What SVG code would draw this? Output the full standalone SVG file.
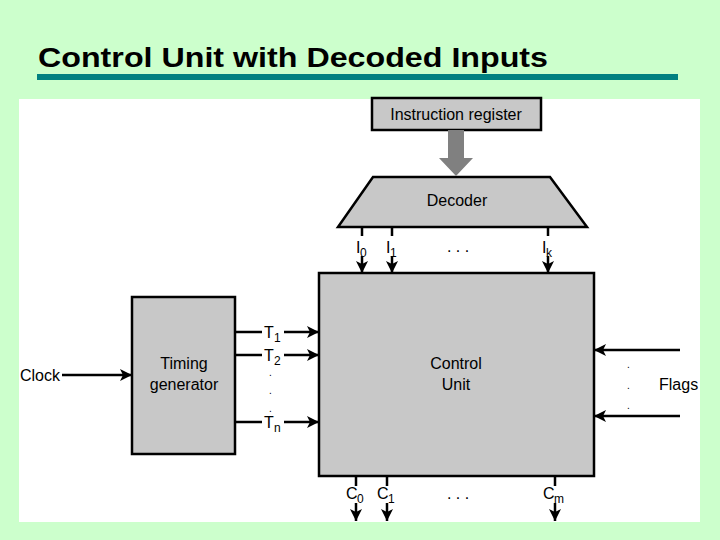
<svg xmlns="http://www.w3.org/2000/svg" width="720" height="540" viewBox="0 0 720 540">
<defs>
<marker id="ah" markerWidth="12" markerHeight="12" refX="12" refY="6" orient="auto" markerUnits="userSpaceOnUse">
<path d="M0,0 L12,6 L0,12 L3,6 Z" fill="#000"/>
</marker>
</defs>
<style>
.box{fill:#c8c8c8;stroke:#000;stroke-width:2.5}
.t{font-family:"Liberation Sans",Arial,sans-serif;font-size:16px;fill:#000}
.s{font-family:"Liberation Sans",Arial,sans-serif;font-size:12px;fill:#000}
.d{font-family:"Liberation Sans",Arial,sans-serif;font-size:10px;fill:#000}
.ln{stroke:#000;stroke-width:2.5;fill:none}
.ar{stroke:#000;stroke-width:2.5;fill:none;marker-end:url(#ah)}
</style>
<rect x="0" y="0" width="720" height="540" fill="#ccffcc"/>
<text x="38" y="67" font-family="'Liberation Sans',Arial,sans-serif" font-size="28" font-weight="bold" textLength="510" lengthAdjust="spacingAndGlyphs">Control Unit with Decoded Inputs</text>
<rect x="37" y="74" width="641" height="6" fill="#008080"/>
<rect x="19" y="99" width="681" height="423" fill="#fff"/>

<g id="instruction-register">
<rect class="box" x="372" y="98" width="169" height="32"/>
<text class="t" x="456" y="120" text-anchor="middle">Instruction register</text>
</g>
<g id="decoder">
<polygon class="box" points="373,177 550,177 587,227 338,227"/>
<text class="t" x="457" y="206" text-anchor="middle">Decoder</text>
</g>
<g id="timing-generator">
<rect class="box" x="132" y="297" width="103" height="157"/>
<text class="t" x="184" y="369" text-anchor="middle">Timing</text>
<text class="t" x="184" y="390" text-anchor="middle">generator</text>
</g>
<g id="control-unit">
<rect class="box" x="319" y="273" width="275" height="203"/>
<text class="t" x="456" y="369" text-anchor="middle">Control</text>
<text class="t" x="456" y="390" text-anchor="middle">Unit</text>
</g>

<g id="connectors">
<polygon points="448,130 464,130 464,158 473,158 456,176 439,158 448,158" fill="#808080"/>
<line class="ln" x1="362" y1="227" x2="362" y2="236"/>
<line class="ar" x1="362" y1="256" x2="362" y2="273"/>
<line class="ln" x1="392" y1="227" x2="392" y2="236"/>
<line class="ar" x1="392" y1="256" x2="392" y2="273"/>
<line class="ln" x1="548" y1="227" x2="548" y2="236"/>
<line class="ar" x1="548" y1="256" x2="548" y2="273"/>
<line class="ln" x1="235" y1="332" x2="262" y2="332"/>
<line class="ar" x1="284" y1="332" x2="319" y2="332"/>
<line class="ln" x1="235" y1="355" x2="262" y2="355"/>
<line class="ar" x1="284" y1="355" x2="319" y2="355"/>
<line class="ln" x1="235" y1="422" x2="262" y2="422"/>
<line class="ar" x1="284" y1="422" x2="319" y2="422"/>
<line class="ar" x1="62" y1="375" x2="132" y2="375"/>
<line class="ar" x1="680" y1="350" x2="594" y2="350"/>
<line class="ar" x1="680" y1="416" x2="594" y2="416"/>
<line class="ln" x1="356" y1="476" x2="356" y2="486"/>
<line class="ar" x1="356" y1="503" x2="356" y2="521"/>
<line class="ln" x1="387" y1="476" x2="387" y2="486"/>
<line class="ar" x1="387" y1="503" x2="387" y2="521"/>
<line class="ln" x1="555" y1="476" x2="555" y2="486"/>
<line class="ar" x1="555" y1="503" x2="555" y2="521"/>
</g>

<g id="labels">
<text class="t" x="356" y="253">I</text><text class="s" x="360" y="257">0</text>
<text class="t" x="386" y="253">I</text><text class="s" x="390" y="257">1</text>
<text class="t" x="542" y="253">I</text><text class="s" x="546" y="257">k</text>
<text class="t" x="458" y="252" text-anchor="middle">. . .</text>
<text class="t" x="264" y="338">T</text><text class="s" x="274" y="342">1</text>
<text class="t" x="264" y="361">T</text><text class="s" x="274" y="365">2</text>
<text class="t" x="264" y="428">T</text><text class="s" x="274" y="432">n</text>
<text class="d" x="269" y="376">.</text>
<text class="d" x="269" y="394">.</text>
<text class="d" x="269" y="412">.</text>
<text class="t" x="20" y="381">Clock</text>
<text class="d" x="627" y="368">.</text>
<text class="d" x="627" y="389">.</text>
<text class="d" x="627" y="409">.</text>
<text class="t" x="659" y="390">Flags</text>
<text class="t" x="346" y="499">C</text><text class="s" x="357" y="503">0</text>
<text class="t" x="377" y="499">C</text><text class="s" x="388" y="503">1</text>
<text class="t" x="543" y="499">C</text><text class="s" x="554" y="503">m</text>
<text class="t" x="458" y="499" text-anchor="middle">. . .</text>
</g>
</svg>
